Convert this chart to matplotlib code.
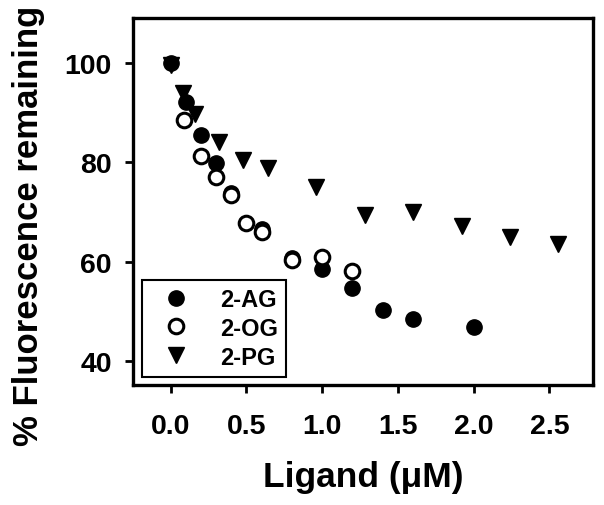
import matplotlib
matplotlib.use('Agg')
import matplotlib.pyplot as plt

plt.rcParams['font.family'] = ['Liberation Sans', 'DejaVu Sans']
plt.rcParams['font.weight'] = 'bold'

# data
ag_x = [0, 0.1, 0.2, 0.3, 0.4, 0.6, 0.8, 1.0, 1.2, 1.4, 1.6, 2.0]
ag_y = [100, 92.2, 85.5, 79.8, 73.8, 66.5, 60.8, 58.5, 54.8, 50.3, 48.5, 46.8]

og_x = [0.09, 0.2, 0.3, 0.4, 0.5, 0.6, 0.8, 1.0, 1.2]
og_y = [88.6, 81.2, 77.0, 73.4, 67.7, 65.9, 60.3, 60.9, 58.1]

pg_x = [0, 0.08, 0.16, 0.32, 0.48, 0.64, 0.96, 1.28, 1.6, 1.92, 2.24, 2.56]
pg_y = [99.6, 94.0, 89.7, 84.0, 80.5, 78.8, 75.0, 69.4, 70.1, 67.1, 65.0, 63.6]

xticks = [0.0, 0.5, 1.0, 1.5, 2.0, 2.5]
yticks = [40, 60, 80, 100]

fig = plt.figure(figsize=(6.04, 5.06), dpi=100)
ax = fig.add_axes([0.2194, 0.2372, 0.7629, 0.7253])

ax.plot(pg_x, pg_y, 'v', color='black', markersize=11.5, linestyle='none', label='2-PG', zorder=3)
ax.plot(ag_x, ag_y, 'o', color='black', markersize=11, linestyle='none', label='2-AG', zorder=4)
ax.plot(og_x, og_y, 'o', markerfacecolor='white', markeredgecolor='black',
        markeredgewidth=2.2, markersize=10.5, linestyle='none', label='2-OG', zorder=5)

ax.set_xlim(-0.252, 2.79)
ax.set_ylim(35.2, 109.06)
ax.set_xticks(xticks)
ax.set_xticklabels([f'{t:.1f}' for t in xticks])
ax.set_yticks(yticks)

for s in ax.spines.values():
    s.set_linewidth(2.4)
ax.tick_params(direction='out', length=6, width=2, labelsize=20.5)
ax.tick_params(axis='x', pad=14)
ax.tick_params(axis='y', pad=9)
for lab in ax.get_xticklabels() + ax.get_yticklabels():
    lab.set_fontweight('bold')

ax.set_xlabel('Ligand (μM)', fontsize=25.5, fontweight='bold')
ax.set_ylabel('% Fluorescence remaining', fontsize=25, fontweight='bold')
ax.xaxis.set_label_coords(0.50, -0.205)
ax.yaxis.set_label_coords(-0.19, 0.436)

h, l = ax.get_legend_handles_labels()
order = [1, 2, 0]
leg = ax.legend([h[i] for i in order], [l[i] for i in order],
                loc='lower left', bbox_to_anchor=(0.02, 0.022), borderaxespad=0,
                fancybox=False, edgecolor='black', framealpha=1,
                prop={'size': 17, 'weight': 'bold'}, handletextpad=0.75,
                handlelength=2.2, labelspacing=0.25, borderpad=0.35)
leg.get_frame().set_linewidth(1.5)

fig.savefig('out.png', dpi=100)
